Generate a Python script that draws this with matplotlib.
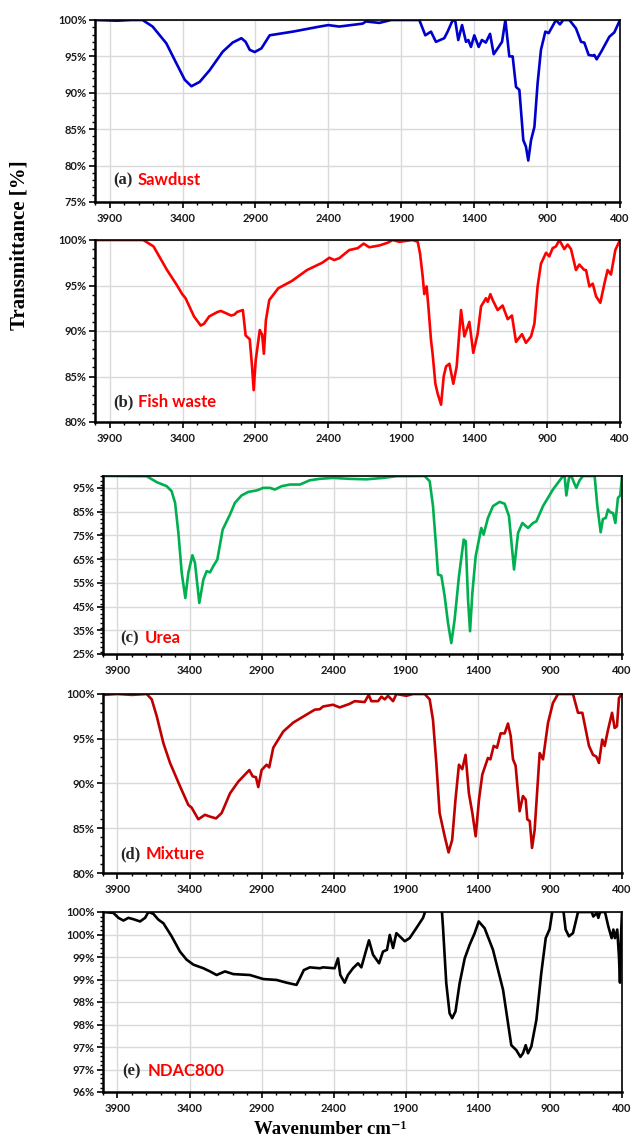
import numpy as np
import matplotlib.pyplot as plt
from matplotlib.ticker import MultipleLocator, FixedLocator, FixedFormatter

# FTIR spectra, (wavenumber cm-1, transmittance %)
sawdust = np.array([
    (4000, 100), (3850, 99.9), (3750, 100), (3674, 100), (3605, 99.1), (3511, 96.8),
    (3442, 94.05), (3385, 91.8), (3339, 90.9), (3282, 91.5), (3214, 93.1), (3124, 95.65),
    (3056, 96.9), (2996, 97.5), (2967, 97.0), (2939, 95.9), (2905, 95.6), (2859, 96.1),
    (2802, 97.9), (2644, 98.4), (2459, 99.1), (2400, 99.3), (2325, 99.1), (2165, 99.5),
    (2142, 99.8), (2050, 99.6), (1970, 100), (1776, 100), (1735, 97.9), (1696, 98.4),
    (1662, 97.0), (1605, 97.5), (1582, 98.4), (1547, 100), (1529, 99.8), (1509, 97.25),
    (1483, 99.3), (1456, 97.0), (1440, 97.25), (1422, 96.3), (1399, 97.9), (1369, 96.3),
    (1347, 97.25), (1320, 96.9), (1291, 98.1), (1266, 95.3), (1232, 96.3), (1209, 97.0),
    (1186, 100), (1159, 95.0), (1136, 95.0), (1113, 90.8), (1090, 90.4), (1063, 83.5),
    (1045, 82.6), (1029, 80.7), (1010, 83.5), (987, 85.3), (965, 91.3), (942, 95.9),
    (912, 98.4), (889, 98.2), (839, 100), (812, 99.4), (789, 100), (747, 100),
    (702, 98.85), (667, 97.0), (645, 96.9), (615, 95.2), (587, 95.1), (576, 95.2),
    (560, 94.6), (530, 95.6), (473, 97.7), (439, 98.3), (400, 100),
])

fish_waste = np.array([
    (4000, 100), (3669, 100), (3599, 99.3), (3506, 96.7), (3437, 95.0), (3402, 94.05),
    (3379, 93.6), (3321, 91.6), (3275, 90.6), (3252, 90.8), (3217, 91.6), (3159, 92.1),
    (3136, 92.2), (3094, 91.9), (3067, 91.7), (3044, 91.8), (3025, 92.1), (2986, 92.3),
    (2967, 89.5), (2939, 89.1), (2923, 86.1), (2912, 83.5), (2898, 86.8), (2870, 90.1),
    (2854, 89.6), (2842, 87.5), (2828, 91.2), (2805, 93.4), (2743, 94.7), (2650, 95.5),
    (2546, 96.7), (2442, 97.5), (2393, 98.05), (2359, 97.8), (2325, 98.0), (2256, 98.9),
    (2199, 99.1), (2158, 99.6), (2119, 99.2), (2050, 99.4), (1993, 99.7), (1959, 100),
    (1913, 99.8), (1822, 100), (1787, 99.8), (1771, 98.5), (1753, 96.0), (1742, 94.05),
    (1726, 94.9), (1712, 92.3), (1696, 89.0), (1685, 87.5), (1666, 84.2), (1650, 83.1),
    (1627, 81.9), (1609, 85.0), (1593, 86.1), (1570, 86.4), (1543, 84.2), (1520, 86.1),
    (1490, 92.3), (1467, 89.4), (1433, 91.0), (1406, 87.6), (1376, 89.7), (1353, 92.7),
    (1319, 93.6), (1307, 93.2), (1289, 94.05), (1273, 93.4), (1239, 92.3), (1205, 92.8),
    (1170, 91.3), (1141, 91.7), (1113, 88.8), (1072, 89.65), (1045, 88.7), (1010, 89.4),
    (987, 90.8), (965, 94.9), (942, 97.4), (907, 98.6), (885, 98.2), (862, 99.1),
    (839, 99.3), (816, 100), (782, 99.0), (759, 99.5), (736, 99.0), (702, 96.7),
    (679, 97.3), (645, 96.7), (633, 96.7), (610, 94.9), (587, 95.2), (564, 93.8),
    (535, 93.1), (507, 95.2), (485, 96.7), (462, 96.2), (432, 98.9), (400, 100),
])

urea = np.array([
    (4000, 100), (3697, 99.9), (3627, 97.4), (3558, 95.7), (3524, 93.6), (3500, 88.7),
    (3477, 76.0), (3454, 59.2), (3429, 48.6), (3408, 59.2), (3380, 66.6), (3362, 63.4),
    (3332, 46.5), (3304, 56.3), (3281, 59.9), (3258, 59.4), (3235, 62.0), (3207, 64.8),
    (3170, 77.4), (3119, 83.8), (3085, 88.7), (3039, 91.8), (2992, 93.3), (2935, 93.9),
    (2888, 95.0), (2842, 95.0), (2808, 94.3), (2761, 95.7), (2704, 96.4), (2634, 96.4),
    (2566, 98.2), (2497, 98.8), (2405, 99.2), (2289, 98.8), (2173, 98.6), (2058, 99.2),
    (1965, 99.9), (1769, 100), (1734, 97.8), (1711, 87.3), (1688, 69.0), (1676, 58.5),
    (1653, 58.0), (1630, 49.3), (1607, 38.1), (1584, 29.6), (1561, 39.5), (1531, 57.7),
    (1498, 73.2), (1484, 72.5), (1468, 47.9), (1454, 34.6), (1438, 50.7), (1415, 66.2),
    (1376, 78.1), (1360, 75.3), (1330, 82.3), (1295, 87.3), (1249, 89.1), (1214, 88.3),
    (1184, 83.1), (1149, 60.6), (1121, 76.0), (1091, 80.2), (1052, 78.1), (1017, 80.2),
    (994, 80.9), (948, 87.3), (879, 94.3), (809, 100), (798, 100), (786, 91.8),
    (768, 99.2), (751, 100), (733, 97.2), (717, 95.0), (694, 98.2), (671, 100),
    (590, 100), (571, 87.3), (548, 76.3), (532, 81.9), (513, 82.3), (497, 85.9),
    (481, 84.7), (462, 84.4), (446, 80.2), (428, 90.8), (412, 91.8), (400, 100),
])

mixture = np.array([
    (4000, 99.9), (3900, 100), (3800, 99.9), (3697, 100), (3662, 99.4), (3627, 97.5),
    (3581, 94.5), (3535, 92.3), (3466, 89.7), (3408, 87.6), (3385, 87.3), (3339, 86.0),
    (3293, 86.5), (3258, 86.3), (3216, 86.1), (3177, 86.7), (3119, 88.9), (3062, 90.2),
    (3015, 91.0), (2985, 91.5), (2962, 90.8), (2939, 90.7), (2923, 89.6), (2900, 91.5),
    (2865, 92.1), (2847, 91.8), (2819, 94.0), (2750, 95.8), (2681, 96.8), (2588, 97.7),
    (2531, 98.25), (2496, 98.3), (2474, 98.6), (2405, 98.8), (2358, 98.5), (2289, 98.9),
    (2254, 99.2), (2185, 99.1), (2157, 99.9), (2139, 99.2), (2092, 99.2), (2069, 99.7),
    (2046, 99.4), (2023, 99.8), (1988, 99.2), (1965, 100), (1896, 99.8), (1850, 100),
    (1769, 100), (1734, 99.4), (1711, 97.1), (1688, 92.3), (1665, 86.7), (1630, 84.1),
    (1603, 82.3), (1578, 83.7), (1555, 88.2), (1531, 92.1), (1508, 91.6), (1485, 93.2),
    (1462, 88.9), (1438, 86.7), (1415, 84.1), (1392, 88.2), (1369, 91.0), (1330, 92.85),
    (1313, 92.7), (1290, 94.2), (1267, 94.0), (1242, 95.6), (1214, 95.6), (1191, 96.7),
    (1172, 95.3), (1156, 92.7), (1138, 92.0), (1110, 86.9), (1087, 88.6), (1068, 88.2),
    (1057, 86.0), (1040, 85.8), (1024, 82.8), (1006, 84.8), (971, 93.4), (948, 92.7),
    (913, 96.8), (879, 99.0), (844, 100), (740, 100), (705, 97.9), (675, 97.9),
    (629, 94.2), (601, 93.2), (578, 93.0), (560, 92.3), (537, 94.9), (520, 94.2),
    (497, 96.0), (469, 97.9), (451, 96.2), (435, 96.4), (421, 99.55), (400, 100),
])

ndac800 = np.array([
    (4000, 100), (3928, 99.98), (3893, 99.87), (3858, 99.81), (3824, 99.87), (3789, 99.84),
    (3743, 99.79), (3708, 99.87), (3685, 100), (3651, 99.96), (3616, 99.83), (3581, 99.75),
    (3524, 99.46), (3466, 99.12), (3420, 98.94), (3373, 98.83), (3304, 98.75), (3258, 98.68),
    (3212, 98.6), (3154, 98.68), (3096, 98.62), (2981, 98.6), (2888, 98.51), (2796, 98.49),
    (2727, 98.43), (2658, 98.38), (2634, 98.53), (2607, 98.71), (2565, 98.77), (2496, 98.75),
    (2474, 98.77), (2393, 98.75), (2370, 98.97), (2354, 98.6), (2324, 98.43), (2301, 98.6),
    (2266, 98.75), (2231, 98.86), (2208, 98.77), (2180, 99.09), (2155, 99.37), (2127, 99.05),
    (2085, 98.86), (2058, 99.12), (2030, 99.16), (2011, 99.49), (1988, 99.2), (1965, 99.53),
    (1942, 99.46), (1907, 99.35), (1873, 99.42), (1827, 99.64), (1780, 99.87), (1746, 100.2),
    (1653, 100.2), (1642, 99.68), (1619, 98.42), (1596, 97.75), (1578, 97.64), (1555, 97.79),
    (1526, 98.42), (1491, 98.97), (1457, 99.27), (1422, 99.53), (1394, 99.79), (1353, 99.64),
    (1295, 99.16), (1225, 98.27), (1168, 97.04), (1133, 96.93), (1105, 96.78), (1087, 96.86),
    (1068, 97.04), (1052, 96.86), (1029, 97.01), (994, 97.6), (960, 98.64), (929, 99.42),
    (902, 99.62), (879, 100.1), (809, 100.1), (791, 99.61), (768, 99.46), (740, 99.53),
    (705, 100), (610, 100), (599, 99.9), (575, 99.98), (564, 99.87), (552, 100),
    (518, 100), (495, 99.68), (472, 99.42), (460, 99.61), (449, 99.42), (433, 99.61),
    (421, 99.01), (414, 98.43), (407, 99.46), (400, 100),
])

spectra = [sawdust, fish_waste, urea, mixture, ndac800]
tags = ["(a)", "(b)", "(c)", "(d)", "(e)"]
names = ["Sawdust", "Fish waste", "Urea", "Mixture", "NDAC800"]
colors = ["#0000CC", "#FF0000", "#00B050", "#C00000", "#000000"]
y_limits = [(75, 100), (80, 100), (25, 100), (80, 100), (96, 100)]
y_ticks = [
    [75, 80, 85, 90, 95, 100],
    [80, 85, 90, 95, 100],
    [25, 35, 45, 55, 65, 75, 85, 95],
    [80, 85, 90, 95, 100],
    [96, 96.5, 97, 97.5, 98, 98.5, 99, 99.5, 100],
]
# labels on the last panel are rounded to whole percent
ndac_tick_labels = ["96%", "97%", "97%", "98%", "98%", "99%", "99%", "100%", "100%"]
y_minor = [1, 1, 2, 1, 0.1]
x_ticks = [3900, 3400, 2900, 2400, 1900, 1400, 900, 400]

# axes boxes in pixels: left, right, top, bottom
W, H = 634, 1139
boxes = [(95, 620, 20, 202), (95, 620, 240, 422), (103, 622, 476, 654),
         (103, 622, 694, 873), (103, 622, 912, 1092)]
tag_pos = [(0.034, 0.12), (0.034, 0.11), (0.033, 0.09), (0.033, 0.106), (0.038, 0.117)]

fig = plt.figure(figsize=(W / 100, H / 100), dpi=100)
tick_font = dict(family="Lato", weight="bold", size=8)

for i, data in enumerate(spectra):
    l, r, t, b = boxes[i]
    ax = fig.add_axes([l / W, 1 - b / H, (r - l) / W, (b - t) / H])
    ax.plot(data[:, 0], data[:, 1], color=colors[i], lw=1.9, solid_joinstyle="round")
    ax.set_xlim(4000, 400)
    ax.set_ylim(*y_limits[i])

    ax.xaxis.set_major_locator(FixedLocator(x_ticks))
    ax.xaxis.set_minor_locator(MultipleLocator(100))
    ax.yaxis.set_major_locator(FixedLocator(y_ticks[i]))
    ax.yaxis.set_minor_locator(MultipleLocator(y_minor[i]))
    if i == 4:
        ax.yaxis.set_major_formatter(FixedFormatter(ndac_tick_labels))
    else:
        ax.yaxis.set_major_formatter(FixedFormatter([f"{v:g}%" for v in y_ticks[i]]))

    ax.grid(True, which="major", color="#d9d9d9", lw=1.0)
    ax.set_axisbelow(True)
    for side in ["left", "bottom"]:
        ax.spines[side].set_linewidth(1.8)
    for side in ["top", "right"]:
        ax.spines[side].set_linewidth(1.2)
    ax.tick_params(which="major", direction="out", length=4, width=1.2, pad=2)
    ax.tick_params(which="minor", direction="out", length=2.5, width=1.0)
    ax.tick_params(axis="x", pad=4)
    for lab in ax.get_xticklabels() + ax.get_yticklabels():
        lab.set_fontproperties(tick_font)
        lab.set_color("#1a1a1a")

    tx, ty = tag_pos[i]
    ax.text(tx, ty, tags[i], transform=ax.transAxes, ha="left", va="center",
            family="Liberation Serif", weight="bold", size=12, color="#262626")
    ax.annotate(names[i], xy=(tx, ty), xycoords="axes fraction",
                xytext=(18, 0), textcoords="offset points", ha="left", va="center",
                family="Lato", weight="bold", size=12, color="#FF0000")

fig.text(20 / W, 1 - 245 / H, "Transmittance [%]", rotation=90, ha="center", va="center",
         family=["Liberation Serif", "DejaVu Serif"], weight="bold", size=15)
fig.text(330 / W, 1 - 1129 / H, "Wavenumber cm\u207b\u00b9", ha="center", va="center",
         family=["Liberation Serif", "DejaVu Serif"], weight="bold", size=13.5)

fig.savefig("out.png", dpi=100)
